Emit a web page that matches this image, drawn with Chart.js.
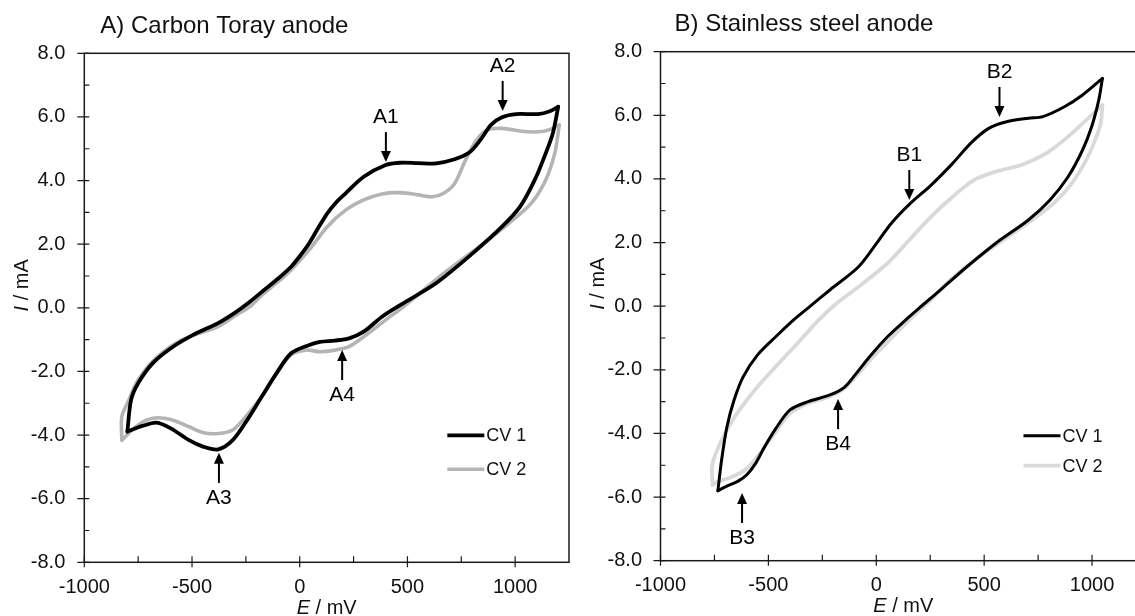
<!DOCTYPE html>
<html>
<head>
<meta charset="utf-8">
<script src="https://cdn.jsdelivr.net/npm/chart.js@4.4.1/dist/chart.umd.min.js"></script>
<style>
html, body { margin: 0; padding: 0; background: #fff; overflow: hidden; width: 1135px; height: 616px; }
canvas { position: absolute; top: 0; }
#chartA { left: 0; }
#chartB { left: 576px; }
</style>
</head>
<body>
<canvas id="chartA" width="575" height="616"></canvas>
<canvas id="chartB" width="576" height="616"></canvas>
<script>
const FONT = '"Liberation Sans", Arial, sans-serif';

const eTicks = [-1000, -500, 0, 500, 1000];
const eMinor = [-750, -250, 250, 750];
const iTicks = [-8, -6, -4, -2, 0, 2, 4, 6, 8];
const iMinor = [-7, -5, -3, -1, 1, 3, 5, 7];
const seriesNames = ['CV 1', 'CV 2'];

// A) carbon toray anode, points are [E mV, I mA]
const carbonCv1Fwd = [[-800,-3.89],[-783,-2.9],[-750,-2.37],[-682,-1.74],[-598,-1.27],[-497,-0.86],[-379,-0.48],
  [-300,-0.15],[-230,0.2],[-176,0.5],[-100,0.92],[-40,1.29],[0,1.62],[44,2.03],[85,2.5],[128,2.97],[170,3.32],
  [213,3.6],[297,4.12],[399,4.49],[466,4.56],[550,4.55],[634,4.54],[719,4.67],[787,4.88],[838,5.27],[888,5.75],
  [939,5.99],[1005,6.09],[1107,6.09],[1158,6.17],[1200,6.32]];
const carbonCv1Rev = [[1200,6.32],[1175,5.49],[1142,4.86],[1091,4.02],[1023,3.18],[939,2.55],[804,1.72],[634,0.78],
  [470,0.1],[382,-0.28],[297,-0.75],[229,-0.96],[162,-1.03],[94,-1.07],[44,-1.17],[-40,-1.43],[-108,-2.06],
  [-176,-2.79],[-244,-3.53],[-311,-4.16],[-378,-4.45],[-446,-4.37],[-514,-4.16],[-598,-3.79],[-665,-3.61],
  [-733,-3.72],[-800,-3.89]];
const carbonCv2Fwd = [[-826,-4.16],[-826,-3.42],[-800,-3.0],[-750,-2.27],[-667,-1.58],[-547,-1.01],[-379,-0.59],
  [-300,-0.25],[-230,0.05],[-176,0.4],[-100,0.82],[-40,1.19],[44,1.82],[128,2.55],[213,3.07],[297,3.39],[382,3.58],
  [466,3.62],[550,3.55],[617,3.49],[668,3.6],[719,3.91],[770,4.65],[821,5.27],[871,5.59],[939,5.64],[1040,5.54],
  [1125,5.54],[1175,5.64],[1205,5.75]];
const carbonCv2Rev = [[1205,5.75],[1184,4.86],[1142,4.02],[1074,3.28],[972,2.66],[855,2.03],[668,1.08],[490,0.08],
  [399,-0.38],[297,-0.91],[229,-1.22],[162,-1.33],[94,-1.38],[27,-1.33],[-40,-1.48],[-108,-2.06],[-176,-2.79],
  [-244,-3.37],[-311,-3.84],[-378,-3.95],[-446,-3.93],[-514,-3.74],[-598,-3.51],[-682,-3.47],[-750,-3.68],
  [-826,-4.16]];
const carbonPeaks = ['A1', 'A2', 'A3', 'A4'];
const carbonPeakE = [400, 942, -375, 197];
const carbonPeakI = [4.58, 6.19, -4.56, -1.33];
const carbonPeakDir = [-1, -1, 1, 1]; // -1: label above, arrow points down; 1: label below

// B) stainless steel anode
const steelCv1Fwd = [[-734,-5.8],[-717,-4.84],[-692,-3.79],[-659,-2.95],[-617,-2.22],[-550,-1.53],[-466,-0.96],
  [-383,-0.43],[-299,0.04],[-215,0.51],[-82,1.24],[2,1.98],[69,2.6],[153,3.2],[253,3.8],[354,4.49],[437,5.12],
  [521,5.59],[604,5.8],[705,5.91],[772,5.96],[872,6.27],[956,6.64],[1048,7.16]];
const steelCv1Rev = [[1048,7.16],[1031,6.48],[998,5.64],[956,4.91],[889,4.07],[805,3.34],[705,2.71],[554,1.98],
  [420,1.24],[287,0.45],[200,-0.05],[153,-0.33],[52,-0.96],[-31,-1.59],[-98,-2.16],[-148,-2.55],[-215,-2.79],
  [-316,-3.0],[-400,-3.26],[-466,-3.85],[-520,-4.45],[-560,-4.95],[-600,-5.3],[-640,-5.5],[-690,-5.65],[-734,-5.8]];
const steelCv2Fwd = [[-759,-5.62],[-759,-4.94],[-701,-4.0],[-634,-3.26],[-550,-2.53],[-466,-1.9],[-366,-1.17],
  [-266,-0.43],[-182,0.1],[-82,0.61],[52,1.35],[153,2.08],[253,2.81],[354,3.44],[454,3.97],[554,4.23],[672,4.44],
  [789,4.81],[889,5.33],[973,5.85],[1048,6.32]];
const steelCv2Rev = [[1048,6.32],[1040,5.75],[1014,5.22],[973,4.6],[906,3.86],[822,3.23],[722,2.71],[588,2.08],
  [437,1.35],[340,0.8],[253,0.2],[169,-0.33],[69,-1.01],[-15,-1.59],[-82,-2.11],[-148,-2.58],[-215,-2.84],
  [-316,-3.05],[-400,-3.37],[-466,-3.95],[-533,-4.57],[-600,-5.1],[-667,-5.36],[-734,-5.52],[-759,-5.62]];
const steelPeaks = ['B1', 'B2', 'B3', 'B4'];
const steelPeakE = [153, 571, -622, -177];
const steelPeakI = [3.34, 5.95, -5.87, -2.92];
const steelPeakDir = [-1, -1, 1, 1];

const pts = arr => arr.map(p => ({x: p[0], y: p[1]}));

function italicLabel(ctx, first, rest, size) {
  ctx.font = 'italic ' + size + 'px ' + FONT;
  const w1 = ctx.measureText(first).width;
  ctx.font = size + 'px ' + FONT;
  const w2 = ctx.measureText(rest).width;
  let x0 = -(w1 + w2) / 2;
  ctx.textAlign = 'left';
  ctx.textBaseline = 'middle';
  ctx.font = 'italic ' + size + 'px ' + FONT;
  ctx.fillText(first, x0, 0);
  ctx.font = size + 'px ' + FONT;
  ctx.fillText(rest, x0 + w1, 0);
}

const panelPlugin = {
  id: 'panel',
  afterDraw(chart, args, o) {
    const ctx = chart.ctx, a = chart.chartArea, x = chart.scales.x, y = chart.scales.y;
    ctx.save();
    ctx.strokeStyle = '#1a1a1a';
    ctx.fillStyle = '#111';

    // frame
    ctx.lineWidth = 1.5;
    ctx.strokeRect(a.left, a.top, a.right - a.left, a.bottom - a.top);

    // ticks: major cross the axis, minor inside
    ctx.lineWidth = 1.2;
    ctx.beginPath();
    eTicks.forEach(v => { const p = x.getPixelForValue(v); ctx.moveTo(p, a.bottom - 6); ctx.lineTo(p, a.bottom + 5); });
    eMinor.forEach(v => { const p = x.getPixelForValue(v); ctx.moveTo(p, a.bottom - 6); ctx.lineTo(p, a.bottom); });
    iTicks.forEach(v => { const p = y.getPixelForValue(v); ctx.moveTo(a.left - 7, p); ctx.lineTo(a.left + 5, p); });
    iMinor.forEach(v => { const p = y.getPixelForValue(v); ctx.moveTo(a.left, p); ctx.lineTo(a.left + 5, p); });
    ctx.stroke();

    // panel title
    ctx.font = '24px ' + FONT;
    ctx.textAlign = 'left';
    ctx.textBaseline = 'middle';
    ctx.fillText(o.title, a.left + o.titleDx, a.top - 27);

    // axis titles
    ctx.save();
    ctx.translate(a.left - 62, a.top + 232);
    ctx.rotate(-Math.PI / 2);
    italicLabel(ctx, 'I', ' / mA', 20);
    ctx.restore();
    ctx.save();
    ctx.translate((a.left + a.right) / 2, a.bottom + 46);
    italicLabel(ctx, 'E', ' / mV', 20);
    ctx.restore();

    // legend
    chart.data.datasets.filter(d => d.legend).forEach((d, k) => {
      const ly = a.top + o.legendTop + k * o.legendGap;
      ctx.strokeStyle = d.borderColor;
      ctx.lineWidth = d.borderWidth;
      ctx.beginPath();
      ctx.moveTo(a.left + 363, ly);
      ctx.lineTo(a.left + 400, ly);
      ctx.stroke();
      ctx.font = '18px ' + FONT;
      ctx.textAlign = 'left';
      ctx.fillText(d.label, a.left + 402, ly + 1);
    });

    // peak arrows
    ctx.strokeStyle = '#000';
    ctx.fillStyle = '#000';
    o.peaks.forEach((name, k) => {
      const px = x.getPixelForValue(o.peakE[k]);
      const py = y.getPixelForValue(o.peakI[k]);
      const s = o.peakDir[k];
      ctx.lineWidth = 2;
      ctx.beginPath();
      ctx.moveTo(px, py + s * 30);
      ctx.lineTo(px, py + s * 9);
      ctx.stroke();
      ctx.beginPath();
      ctx.moveTo(px, py);
      ctx.lineTo(px - 5, py + s * 11);
      ctx.lineTo(px + 5, py + s * 11);
      ctx.closePath();
      ctx.fill();
      ctx.font = '21px ' + FONT;
      ctx.textAlign = 'center';
      ctx.textBaseline = 'middle';
      ctx.fillText(name, px, py + s * 45);
    });
    ctx.restore();
  }
};

function makePanel(id, p) {
  const line = (data, color, width, legend, label) => ({
    label: label, legend: legend, data: pts(data), showLine: true,
    borderColor: color, borderWidth: width, pointRadius: 0, tension: 0.3,
    borderJoinStyle: 'round', borderCapStyle: 'round', fill: false
  });
  return new Chart(document.getElementById(id), {
    type: 'scatter',
    data: {
      datasets: [
        line(p.cv1Fwd, '#000', p.w1, true, seriesNames[0]),
        line(p.cv1Rev, '#000', p.w1, false, seriesNames[0]),
        line(p.cv2Fwd, p.gray, p.w2, true, seriesNames[1]),
        line(p.cv2Rev, p.gray, p.w2, false, seriesNames[1])
      ]
    },
    options: {
      responsive: false,
      animation: false,
      events: [],
      layout: { padding: { top: p.top, right: 6, left: 0, bottom: 0 } },
      scales: {
        x: {
          type: 'linear', min: -1000, max: 1250,
          afterBuildTicks: s => { s.ticks = eTicks.map(v => ({value: v})); },
          afterFit: s => { s.height = p.xH; },
          grid: { display: false, drawTicks: false },
          border: { display: false },
          ticks: { color: '#111', padding: 13, maxRotation: 0, autoSkip: false,
                   font: { family: FONT, size: 20 }, callback: v => String(v) }
        },
        y: {
          type: 'linear', min: -8, max: 8,
          afterBuildTicks: s => { s.ticks = iTicks.map(v => ({value: v})); },
          afterFit: s => { s.width = p.yW; },
          grid: { display: false, drawTicks: false },
          border: { display: false },
          ticks: { color: '#111', padding: p.yPad, autoSkip: false,
                   font: { family: FONT, size: 20 }, callback: v => v.toFixed(1) }
        }
      },
      plugins: {
        legend: { display: false },
        tooltip: { enabled: false },
        panel: {
          title: p.title, titleDx: p.titleDx, legendTop: p.legendTop, legendGap: p.legendGap,
          peaks: p.peaks, peakE: p.peakE, peakI: p.peakI, peakDir: p.peakDir
        }
      }
    },
    plugins: [panelPlugin]
  });
}

makePanel('chartA', {
  title: 'A) Carbon Toray anode', titleDx: 16, top: 53.3, xH: 53.7, yW: 84.3, yPad: 19,
  cv1Fwd: carbonCv1Fwd, cv1Rev: carbonCv1Rev, cv2Fwd: carbonCv2Fwd, cv2Rev: carbonCv2Rev,
  gray: '#b4b4b4', w1: 3.8, w2: 3.6, legendTop: 382, legendGap: 34,
  peaks: carbonPeaks, peakE: carbonPeakE, peakI: carbonPeakI, peakDir: carbonPeakDir
});

makePanel('chartB', {
  title: 'B) Stainless steel anode', titleDx: 14, top: 51.7, xH: 55.3, yW: 84.5, yPad: 18.5,
  cv1Fwd: steelCv1Fwd, cv1Rev: steelCv1Rev, cv2Fwd: steelCv2Fwd, cv2Rev: steelCv2Rev,
  gray: '#d9d9d9', w1: 3, w2: 3.8, legendTop: 384, legendGap: 30,
  peaks: steelPeaks, peakE: steelPeakE, peakI: steelPeakI, peakDir: steelPeakDir
});
</script>
</body>
</html>
